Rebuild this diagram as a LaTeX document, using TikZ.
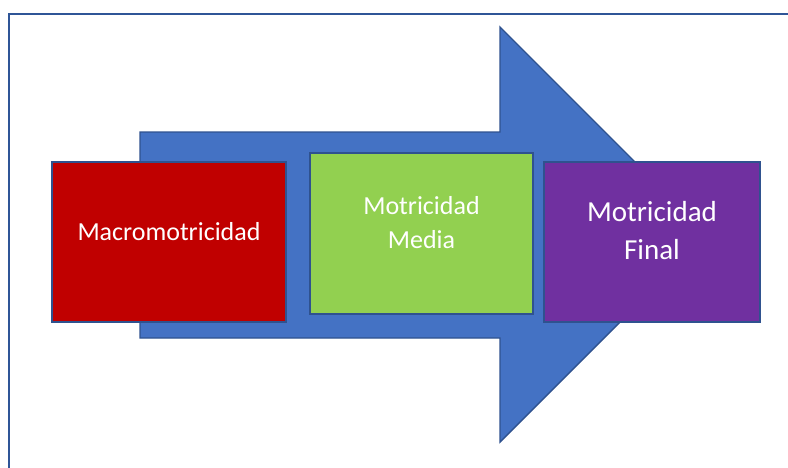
\documentclass[tikz,border=0pt]{standalone}
\usepackage{fontspec}
\setmainfont{Carlito}
\definecolor{framec}{HTML}{2F5597}
\definecolor{arrowfill}{HTML}{4472C4}
\definecolor{arrowline}{HTML}{2F528F}
\definecolor{redbox}{HTML}{C00000}
\definecolor{greenbox}{HTML}{92D050}
\definecolor{purplebox}{HTML}{7030A0}
\begin{document}
\begin{tikzpicture}[x=1pt,y=-1pt,
  stagebox/.style={draw=arrowline, line width=1.6pt, rectangle, inner sep=0pt},
  stagetext/.style={text=white, align=center, inner sep=0pt}]
\useasboundingbox (0,0) rectangle (788,467);
% frame
\draw[framec, line width=2pt] (8.5,480) -- (8.5,14) -- (800,14);
% big arrow
\draw[fill=arrowfill, draw=arrowline, line width=1.4pt, line join=miter]
  (140,132) -- (500,132) -- (500,27) -- (707.5,234.5) -- (500,442) -- (500,338) -- (140,338) -- cycle;
% boxes
\node[stagebox, fill=redbox, minimum width=234pt, minimum height=160pt] (macro) at (169,242) {};
\node[stagebox, fill=greenbox, minimum width=223pt, minimum height=161pt] (media) at (421.5,233.5) {};
\node[stagebox, fill=purplebox, minimum width=216pt, minimum height=160pt] (final) at (652,242) {};
% texts
\node[stagetext, font=\fontsize{26}{34}\selectfont] (macrot) at ([yshift=10pt]macro.center) {Macromotricidad};
\node[stagetext, font=\fontsize{26}{34}\selectfont] (mediat) at ([yshift=11pt]media.center) {Motricidad\\Media};
\node[stagetext, font=\fontsize{29}{38}\selectfont] (finalt) at ([yshift=11pt]final.center) {Motricidad\\Final};
\end{tikzpicture}
\end{document}
